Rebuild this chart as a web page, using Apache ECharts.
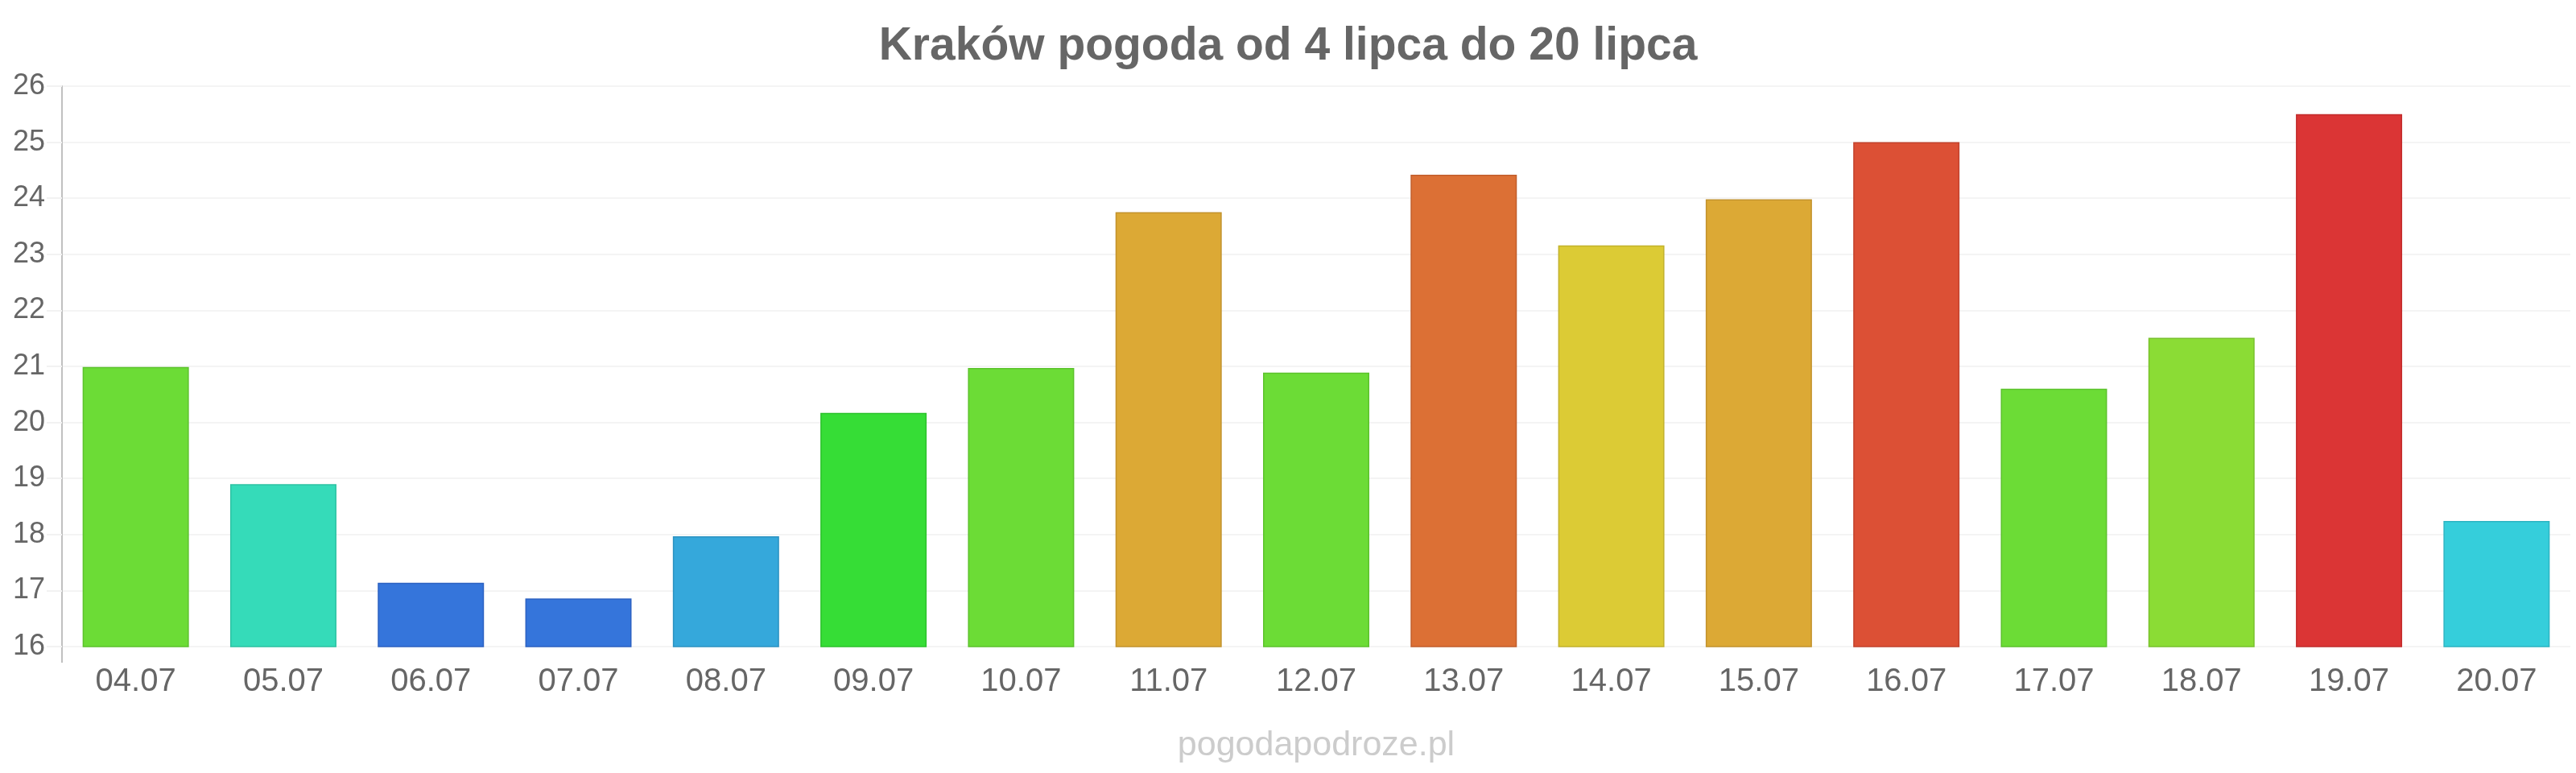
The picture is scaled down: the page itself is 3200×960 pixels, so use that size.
<!DOCTYPE html>
<html>
<head>
<meta charset="utf-8">
<script src="https://cdn.jsdelivr.net/npm/echarts@6/dist/echarts.min.js"></script>
<style>
html,body{margin:0;padding:0;background:#fff;}
#chart{width:3200px;height:960px;}
</style>
</head>
<body>
<div id="chart"></div>
<script>
const titleText = 'Kraków pogoda od 4 lipca do 20 lipca';
const watermark = 'pogodapodroze.pl';
const categories = ['04.07','05.07','06.07','07.07','08.07','09.07','10.07','11.07','12.07','13.07','14.07','15.07','16.07','17.07','18.07','19.07','20.07'];
const temps = [20.99, 18.9, 17.14, 16.86, 17.97, 20.17, 20.97, 23.75, 20.89, 24.42, 23.16, 23.98, 25.0, 20.6, 21.51, 25.5, 18.24];
const barColors = ['#6cdc36','#35dbb9','#3575db','#3575db','#35a8db','#36dd36','#6cdc36','#dca935','#6cdc36','#dc7035','#dccb35','#dca935','#dc5035','#6cdc36','#8bdc35','#db3535','#35cedb'];
const borderColors = ['#5cc22c','#2cc2a2','#2c62c2','#2c62c2','#2c92c2','#2cc22c','#5cc22c','#c2922c','#5cc22c','#c25e2c','#c2b22c','#c2922c','#c2422c','#5cc22c','#78c22c','#c22c2c','#2cb4c2'];
const yTicks = {min: 16, max: 26, interval: 1};

const font = '"Liberation Sans", Arial, sans-serif';
const chart = echarts.init(document.getElementById('chart'), null, {renderer: 'canvas'});
const option = {
  animation: false,
  backgroundColor: '#ffffff',
  title: {
    text: titleText,
    left: 'center',
    top: 25,
    textStyle: {fontFamily: font, fontSize: 57, fontWeight: 'bold', color: '#666666'}
  },
  grid: {left: 77, right: 7, top: 107, bottom: 157, containLabel: false},
  xAxis: {
    type: 'category',
    data: categories,
    axisLine: {show: false},
    axisTick: {show: false},
    axisLabel: {color: '#666666', fontFamily: font, fontSize: 40, margin: 24},
    splitLine: {show: false}
  },
  yAxis: {
    type: 'value',
    min: yTicks.min,
    max: yTicks.max,
    interval: yTicks.interval,
    axisLine: {show: true, lineStyle: {color: '#c0c0c0', width: 2}},
    axisTick: {show: true, length: 19, lineStyle: {color: '#f2f2f2', width: 2}},
    axisLabel: {color: '#666666', fontFamily: font, fontSize: 36, margin: 21},
    splitLine: {show: true, lineStyle: {color: '#f4f4f4', width: 2}}
  },
  series: [{
    type: 'bar',
    data: temps.map((v, i) => ({
      value: v,
      itemStyle: {color: barColors[i], borderColor: borderColors[i], borderWidth: 1.5}
    })),
    barCategoryGap: '28%'
  }]
};
chart.setOption(option);

// extend the y axis line slightly below the plot, as in the reference
const p0 = chart.convertToPixel({gridIndex: 0}, [0, yTicks.min]);
const gridRect = chart.getModel().getComponent('grid', 0).coordinateSystem.getRect();
chart.setOption({
  graphic: [
    {type: 'line', shape: {x1: gridRect.x, y1: p0[1], x2: gridRect.x, y2: p0[1] + 20}, style: {stroke: '#c0c0c0', lineWidth: 2}},
    {type: 'text', x: gridRect.x + gridRect.width / 2, y: 926,
     style: {text: watermark, fill: '#cccccc', font: '43px ' + font, textAlign: 'center', textVerticalAlign: 'middle'}}
  ]
});
</script>
</body>
</html>
